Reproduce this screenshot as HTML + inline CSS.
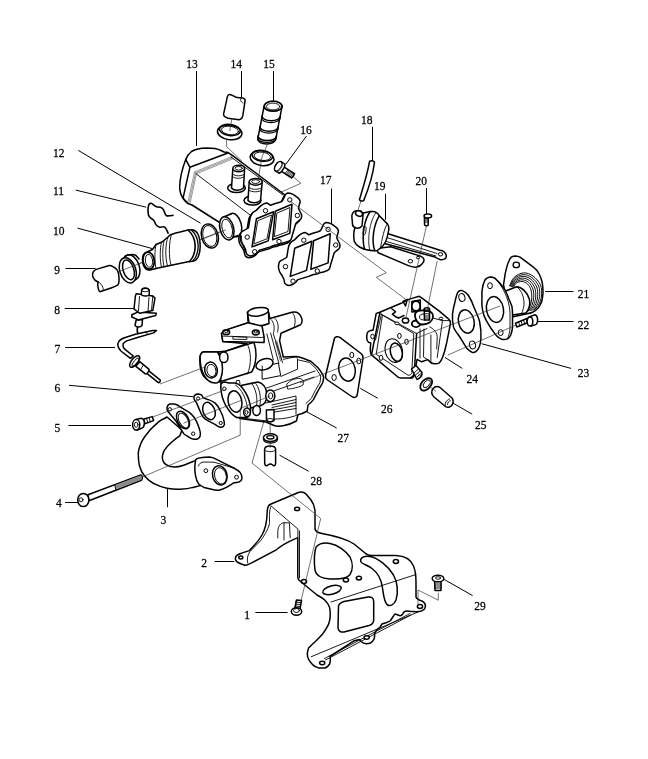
<!DOCTYPE html>
<html><head><meta charset="utf-8"><style>
html,body{margin:0;padding:0;background:#fff;}
svg{display:block;}
text{font-family:"Liberation Serif",serif;font-size:12px;fill:#000;stroke:#000;stroke-width:0.25;}
svg{will-change:transform;}
.o{fill:#fff;stroke:#000;stroke-width:1.5;stroke-linejoin:round;stroke-linecap:round;}
.n{fill:none;stroke:#000;stroke-width:1.5;stroke-linejoin:round;stroke-linecap:round;}
.i{fill:none;stroke:#000;stroke-width:0.9;stroke-linejoin:round;stroke-linecap:round;}
.t{fill:none;stroke:#333;stroke-width:0.7;}
.l{fill:none;stroke:#000;stroke-width:1;}
.h{fill:#fff;stroke:#000;stroke-width:1;}
</style></head><body>
<svg width="648" height="759" viewBox="0 0 648 759">
<g class="t">
<path d="M105,277 L232,227"/>
<path d="M293.5,177 L300.9,183.3 L278.6,193.2"/>
<path d="M226.6,138 L226.6,146.7 L241.3,160.6 L241.3,168"/>
<path d="M361,201 L357,213"/>
</g>
<g class="l">
<path d="M78.3,150.4 L200.5,223.2"/>
<path d="M75.8,190.1 L146.2,207.2"/>
<path d="M77.5,228.1 L152.3,248.6"/>
<path d="M65.4,268.5 L95.6,268.5"/>
<path d="M64.7,308.5 L133.8,308.5"/>
<path d="M65,347.5 L115,347.5"/>
<path d="M69,385.3 L193,396.7"/>
<path d="M68.4,425.5 L131,425.5"/>
<path d="M65,502.5 L78,502.5"/>
<path d="M167.5,486.5 L167.5,507.2"/>
<path d="M214.7,561.5 L234.4,561.5"/>
<path d="M255.4,612.5 L287.5,612.5"/>
<path d="M196.5,71 L196.5,146"/>
<path d="M241.5,71 L241.5,97"/>
<path d="M273.5,71 L273.5,100.6"/>
<path d="M306.5,136 L286,164"/>
<path d="M331.5,188.5 L331.5,223.7"/>
<path d="M372.5,126.7 L372.5,161.7"/>
<path d="M385.5,193.8 L385.5,219.8"/>
<path d="M426.5,188 L426.5,213.6"/>
<path d="M545,291.5 L573.5,291.5"/>
<path d="M536.4,321.5 L573.5,321.5"/>
<path d="M481.6,343.7 L571,368.4"/>
<path d="M445,357.5 L462.3,368.4"/>
<path d="M452.8,403 L472.2,414.2"/>
<path d="M360.3,388.3 L377.8,398.3"/>
<path d="M306.9,411.9 L336.7,428"/>
<path d="M279.6,455.2 L308.7,471.3"/>
<path d="M443.9,579.3 L472.6,595.6"/>
</g>
<g id="bracket">
<path class="o" d="M235.4,559.1 C235,556 238,554 242.3,552.9 L249.3,550.6 C254,546 258,542 262,535 C266,528 267,520 267.2,512 C267.3,507 268,505 271,504 L299,492.3 C302,491.5 304,492 306,494 L311,500 C314,504 315,507 315,512 L315,529 C315.5,531.5 318,532.8 322,533.5 C333,535.5 345,538 354,544 L365,553 C367,555 369,555.6 372,555.6 L396,555.6 C405,556 411,560 413.5,566 C415.5,571 416,576 416,582 L416,597 C417,599.5 420,600.5 422.6,601.3 C425.5,603 426,606 424.5,609 C422,611.5 419,612 416,611.8 L409.6,611.3 C406,610.3 404,611 403,613.5 C402,616 400,616 398,615 L395,614 C393,616 392,619 390,621 C388,622.5 385,622.8 382,624 L380,627.2 C377,629.5 375.5,631 374.5,633.5 C375,637 374,641 370.5,643 C367,644.2 363,643.5 361,641.5 L359.3,639.5 L354.3,640.7 L330,656.5 C330.5,659 330.3,662 329.6,664 C328,666.5 326,667.8 324.7,667.9 L318.5,667.9 C315.5,667 313.5,665.8 312.3,664.2 C310.5,662.5 309.3,661 308.6,659.3 C307.5,657 307.2,655 307.4,653.1 C307.6,651 308,649.5 308.6,648.1 C310.5,646 312.5,644 314.8,642 C317.5,639.5 320,637 322.2,634.6 C324.5,631.5 326.8,628 328.4,624.7 C329.6,621.5 330.2,618.8 330.2,616 C330.3,613 330.1,610 329.6,607.4 C328.5,604 326.8,602 324.7,600 C322,597.5 319,596 317,595 L300,581 C298.5,580 297.8,579 297.8,577 L297.8,538 L296.4,538.2 C290,541 283,544 276.3,549.8 L253.1,562.2 C250,564 247,565.5 244.7,565.2 L240.8,563.7 C237.5,562.5 235.6,561 235.4,559.1 Z"/>
<path class="i" d="M270.9,505.8 L297.9,529 L297.9,538"/>
<path class="i" d="M270.9,506.6 C269,510 269.5,518 269.5,523.6 C268,530 263,538 259.3,542.1 L250,551.4 C247.5,555 246.8,559 247.7,563"/>
<path class="i" d="M299.5,531 L299.5,578"/>
<path class="i" d="M277.8,538 L277.8,531.3 C278,526 281,522.8 284,522.8 L289.4,522.8 L290.2,537.5"/>
<path class="i" d="M284,522.8 L284,540"/>
<path class="n" d="M316.3,546.7 C320,543 325,542.5 330,543.5 C338,545 346,551 350,557 C353,563 353,570 350,574.5 C347,578.5 340,579.5 330,579 C322,578.5 316,576 315,570 C314,563 314,552 316.3,546.7 Z"/>
<path class="n" d="M360.7,559.6 C362,556.5 366,556 370,556.5 C378,558 388,566 393.5,575 C397.5,582 398.5,592 396,600 C394,605 390,606.5 387.5,605 C384,602 383.5,595 382.5,588 C381.5,580 378,573 372,568.5 C367,565 362,564 360.7,561.5 Z"/>
<path class="n" d="M338.5,606 C339,603.5 341,602.5 344,601.5 L368,597 C371.5,596.5 373.7,598 373.7,601.5 L373.7,620 C373.7,623 372,624.5 369,625.5 L344,632 C340.5,632.5 338,630.5 338,627.5 Z"/>
<ellipse class="n" cx="332" cy="590" rx="9.5" ry="4.2" transform="rotate(-15 332 590)"/>
<path class="i" d="M331,602 L416,574.5"/>
<path class="i" d="M311.1,656.8 L418,612"/>
<path class="i" d="M324.5,658.5 L410,613.5 M325.5,660 L411,615"/>
<g class="h" style="stroke-width:1.5">
<ellipse cx="297.1" cy="508.9" rx="2.5" ry="1.7"/>
<ellipse cx="240.8" cy="557.5" rx="2" ry="1.5"/>
<ellipse cx="304" cy="581.5" rx="2.6" ry="1.9"/>
<ellipse cx="345.9" cy="580" rx="2.6" ry="1.9"/>
<ellipse cx="358.9" cy="578.1" rx="2.6" ry="1.9"/>
<ellipse cx="395.9" cy="561.5" rx="2.6" ry="1.9"/>
<ellipse cx="420" cy="606.5" rx="2.6" ry="1.9"/>
<ellipse cx="322.2" cy="663" rx="2.6" ry="1.7"/>
<ellipse cx="366.7" cy="637.5" rx="2.6" ry="1.7"/>
</g>
</g>
<path class="t" d="M264,421 L252,463 L320.7,518.5 L301,601"/>
<g id="screw1">
<path class="o" d="M295,608 L296.5,600 L301.5,600.5 L300,609 Z"/>
<path class="i" d="M295.5,602 L300.8,602.5 M295.3,604 L300.5,604.5 M295.1,606 L300.3,606.5"/>
<ellipse class="o" cx="296.5" cy="611.5" rx="5.2" ry="3.8"/>
<ellipse class="i" cx="296.5" cy="610.5" rx="3" ry="2"/>
</g>
<g id="screw29">
<path class="o" d="M434.6,581.5 L435,590.4 L441,590.4 L441.1,581.5 Z"/>
<path class="i" d="M434.8,584 L441,584 M434.8,586 L441,586 M434.8,588 L441,588"/>
<ellipse class="o" cx="438" cy="578.5" rx="5.8" ry="3.3"/>
<ellipse class="i" cx="438" cy="578" rx="2.5" ry="1.3"/>
</g>
<g id="pipe3">
<path class="o" d="M167,417 C163,419 160,420.5 157.8,422.6 C154,426 151,428.5 148.5,431.9 C145,436 142.5,439.5 141.1,443 C139,448 138.2,451 138.3,454 C138.3,458 138.5,461.5 139.3,465.2 C140.5,470 142,473 144.8,476.3 C147.5,479.5 150.5,482 154.1,483.7 C158.5,486 162.5,487.5 167,488.3 C171.5,489.2 175.5,489.4 180,489.3 C185,489 189,488.5 193,487.4 L200.4,485.6 L198.5,459.6 C196.5,460.2 195,460.8 193,461.5 C189.5,462.8 186.5,464.3 183.7,465.2 C180.5,466.3 177.5,467 174.4,467 C171.5,467 169,466.3 167,465.2 C164.8,464 163.6,462.8 163.3,461.5 C162.4,459.5 162.2,457.5 162.4,455.9 C162.9,453.5 163.5,452 164.3,450.4 C166,447.5 168.2,445.3 170.7,443 C174,440 177,437.5 180,435.6 L181.9,430 Z"/>
<path class="o" d="M167,407.8 C167.5,405.5 168.5,404.2 169.8,404 L174.4,404 C176.5,404.4 178.5,405.5 180,406.9 L189.3,412.4 C191,413.8 192.5,415.3 193.9,417 C196,420 197.5,423 198.5,426.3 C199.5,429 200.3,431.5 200.4,433.7 C200.5,436 199.8,437.5 198.5,438.3 C197,439.3 195.5,439.5 193.9,439.3 C192,439 190.5,438.3 189.3,437.4 C187,436 185.2,435 183.7,433.7 L176,421 C173,417 170,414 168,411.5 C167.2,410.3 166.9,409 167,407.8 Z"/>
<ellipse class="n" cx="183" cy="420" rx="5.5" ry="9.5" transform="rotate(-28 183 420)"/>
<ellipse class="i" cx="183.5" cy="420.5" rx="4.3" ry="8" transform="rotate(-28 183.5 420.5)"/>
<circle class="h" cx="169.8" cy="409.3" r="1.7"/>
<circle class="h" cx="193.2" cy="433.7" r="1.7"/>
<path class="o" d="M195.7,459.6 C197,458.3 198.5,458 200.4,457.8 C203.5,457.2 206.5,456.9 209.6,456.9 C212.2,457.2 214.7,458.2 217,459.6 L224.4,463.3 L233.7,468 C236.2,469.3 238.5,470.8 240.2,472.6 C241.5,474.3 242.2,476.2 242,478.1 C241.7,479.8 240.8,481.2 239.3,481.9 C237.5,482.7 235.5,482.8 233.7,482.8 C231,484.5 228.7,486 226.3,487.4 C223.8,488.7 221.3,489.8 218.9,490.2 C216.3,490.4 213.8,490 211.5,489.3 L204,487.4 C201.8,486.4 200,485.2 198.5,483.7 C197,481.5 196.2,479 195.7,476.3 C195,473.3 194.7,470 194.8,467 C195,464.3 195.2,461.8 195.7,459.6 Z"/>
<path class="i" d="M198.5,466 C199,463.5 201,462.2 204,462 L214,462.2 L233.7,468"/>
<ellipse class="n" cx="219.8" cy="475.4" rx="7.2" ry="9.8" transform="rotate(-15 219.8 475.4)"/>
<ellipse class="i" cx="220.5" cy="475.8" rx="5.8" ry="8.3" transform="rotate(-15 220.5 475.8)"/>
<circle class="h" cx="205.9" cy="470.7" r="1.9"/>
<circle class="h" cx="236.5" cy="477.2" r="1.9"/>
</g>
<g id="gasket6">
<path class="o" d="M193.9,396.7 C194.5,394.8 196,394 197.6,393.9 C199,393.9 200.3,394.2 201.3,394.8 C202,395.5 202.6,396.5 203.1,397.6 C204.5,398.5 206,399 207.8,399.4 C210.5,400.3 213,401.5 215.2,403.1 C217.8,405.5 219.5,408.5 220.7,411.5 C222,414 223,416.5 223.5,418.9 C224,420.8 224.5,422.7 224.4,424.4 C224.2,425.7 223.2,426.8 221.7,427.2 C220.3,427.4 219,427 218,426.3 C217,425.8 216,425.2 215.2,424.4 C212.8,423.3 210.3,422.2 207.8,420.7 C206,419.6 204.3,418.4 203.1,417 C201.5,414.6 200.3,412.2 199.4,409.6 C198.5,407.4 197.6,405.2 196.7,403.1 C196,402 195.3,401.2 194.8,400.4 C194.1,399.3 193.8,398 193.9,396.7 Z"/>
<ellipse class="n" cx="209" cy="411" rx="5.8" ry="9" transform="rotate(-22 209 411)"/>
<circle class="h" cx="198.1" cy="398.5" r="1.6"/>
<circle class="h" cx="220.7" cy="423" r="1.6"/>
</g>
<g id="bolt4">
<path class="o" d="M88,494.8 L140.9,474.9 C142.5,475.5 143,478.5 141.4,480.3 L89,500.8 Z"/>
<path d="M114.8,485.2 L140.9,475.4 C142,476 142.4,478.3 141.2,479.8 L115.6,489.6 Z" fill="#8a8a8a"/>
<path class="i" d="M114.8,485 L115.8,490"/>
<ellipse class="o" cx="83.3" cy="500" rx="5.6" ry="6.6"/>
<circle class="i" cx="81" cy="499.8" r="2"/>
</g>
<g id="bolt5">
<path class="o" d="M139,420.5 L152.2,416.6 L153.6,420.6 L140,425.5 Z"/>
<path class="i" d="M144,419 L145.3,423.3 M146.5,418.2 L147.8,422.5 M149,417.4 L150.3,421.7"/>
<path class="o" d="M136,419.5 L141,418.2 C143.5,418.5 144.5,421.5 144.3,424 C144.2,426.5 143,428 141,428.5 L137,430 Z"/>
<ellipse class="o" cx="136.2" cy="424.8" rx="3.6" ry="5.2"/>
<ellipse class="i" cx="136.2" cy="424.8" rx="1.8" ry="2.6"/>
</g>
<g id="valvebody">
<!-- overall silhouette -->
<path class="o" d="M247.5,312 L268.5,312 L269.8,318.5 L292,312.3 C297,311 301,314 301.9,319 C302.3,322 301.5,324 300.6,324.7 L281,333.3 L279.6,340.7 L283.3,357 L296,356.5 C301,357 306,359.5 310.8,361.3 L317.8,367.5 C320,370 322,373 323.3,375.8 C323.8,378 323.5,380.5 322.6,382.8 L317.8,391.1 L313.6,399.4 C312,401.5 310,403.5 308,405 L307.2,411 C304,413 300.5,414.3 297.9,414.8 L296.4,421 C292,423.5 288,424.8 284,425.6 C280,426.3 276.5,426.6 273.5,425.2 L266,422 L240,418.5 L222,392 L220.8,381.5 C214,383 207,381 203.5,376 C200.5,371 199.5,363 200.1,356.6 C200.6,353.5 202,352 204,351.7 L217.3,351.9 L225.6,351.3 L246.9,343.8 L222.8,341.4 L221.5,333.3 L227.1,329.6 L248.1,322.8 Z"/>
<!-- main housing details -->
<path class="i" d="M283.3,359.3 L295.7,356.8 C297,357.2 297.5,358 297.5,359.3 L297.5,369.1 L280.9,376.5"/>
<path class="i" d="M298.3,359.9 L309.5,362.5 L316,368.5 L320.8,376 L320,382.5 L315.3,390.5 L311.3,398.5 L306,403.5"/>
<path class="i" d="M261,390 L315,371 M262,395 L314,377"/>
<path class="i" d="M287,384 C290,380 296,378 300,378.5 C303,379 304,382 303,385 C300,387 292,389 288,389 Z"/>
<path class="i" d="M266,403 L296,396 L296,414 M272,405 L296,399.5 M272,407.5 L296,402.5 M272,410 L296,405.5 M272,412.5 L296,408.5"/>
<path class="i" d="M266,418 C275,420 288,419 297.9,414.8"/>
<!-- stub on top -->
<path class="o" d="M247.5,312.5 L249.3,324.7 C255,326.5 263,326 269,323.5 L268.5,312"/>
<ellipse class="o" cx="258" cy="311.8" rx="10.5" ry="4.2" transform="rotate(-8 258 311.8)"/>
<!-- arm ring -->
<path class="i" d="M271,319.5 C274,322 275,328 273.5,333"/>
<path class="i" d="M275,318.5 C278,321 279,327 277.5,332"/>
<path class="i" d="M292,312.5 C295,315 296,320 294.5,326"/>
<!-- flange plate -->
<path class="o" d="M221.5,333.3 L227.1,329.6 L248.1,322.8 L262,326 L264.1,337 L264.1,342.6 L222.8,341.4 Z"/>
<path class="i" d="M221.8,336 L261.7,337.5 L264.1,337"/>
<path class="i" d="M233.3,336.6 L246.9,337.2 L246.9,339.5 L233.3,339.2 Z"/>
<ellipse class="o" cx="226.2" cy="332.2" rx="3.4" ry="2.4"/>
<ellipse class="i" cx="226.2" cy="331.6" rx="1.7" ry="1.1"/>
<ellipse class="o" cx="255.8" cy="332.5" rx="3.4" ry="2.4"/>
<ellipse class="i" cx="255.8" cy="331.9" rx="1.7" ry="1.1"/>
<path class="i" d="M266.9,333.9 L273.3,359.8 M270.6,333 L278.9,363.5 M273.3,333.9 L282.6,362.6"/>
<path class="i" style="stroke-width:0.6" d="M275.5,342 L280.5,361 M276.8,341 L281.6,359"/>
<path class="o" style="stroke-width:1" d="M262,367 L262.2,379.3 L280.7,375.6 L278.5,363.5 Z"/>
<ellipse class="o" cx="264.5" cy="364.3" rx="8.8" ry="5.3" transform="rotate(-18 264.5 364.3)"/>
<path class="i" d="M262.2,366 L262.4,369.5"/>
<!-- left cylinder -->
<path class="o" d="M219,352 L225.6,351.3 L254,342.4 C256.5,350 257.5,362 251.7,372 L220.8,381.5 Z"/>
<path class="i" d="M247,343.6 C251,350 252,364 247.5,374"/>
<path class="o" d="M200.1,356.6 C200.6,353.5 202,352 204,351.7 L217.3,351.9 C220,356 222.5,362 222.5,368.5 C222.5,376 220,381.5 217.3,382.7 C213,383.5 208,382 204.2,375.6 C201.5,371 200,363 200.1,356.6 Z"/>
<ellipse class="n" cx="211" cy="370" rx="6.3" ry="8" transform="rotate(-12 211 370)"/>
<ellipse class="i" cx="211.5" cy="370.5" rx="4.5" ry="6.2" transform="rotate(-12 211.5 370.5)"/>
<ellipse class="o" cx="223.8" cy="357.2" rx="4.2" ry="5.3"/>
<!-- valve seat cylinder -->
<path class="o" d="M241,385.5 L258.2,381.9 C263,383 266.5,388 267,395 C267,400 264.5,404.5 260,406 L248,408.5 Z"/>
<path class="i" d="M255,382.5 C259,387 261.5,396 260,405.5 M251.5,383.3 C255.5,388 258,397 256.5,406.5"/>
<!-- lower-left flange ring -->
<path class="o" d="M221,384 C222,382.5 223.2,381.9 224.7,381.9 L229,383 L235,383 C237.5,383.5 239.3,384.6 240.9,386.2 C243,388.5 244.8,391 246.3,393.8 C247.8,396.5 248.9,399.4 249.6,402.4 C250.2,404.5 250.6,406.7 250.6,408.9 C250.6,411.3 250.3,413.5 249.6,415.4 C248.8,416.6 247.6,417.3 246.3,417.5 L236.6,417.5 C234.5,416.3 232.7,414.9 231.2,413.2 C229.2,410.8 227.4,408.3 225.8,405.6 C224.5,403.2 223.4,400.6 222.6,398 C221.9,395.5 221.3,393 221,390.5 C220.8,388.3 220.8,386 221,384 Z"/>
<path class="i" d="M235.5,385.1 C240,388 244,394 246.3,402.4 C247.2,405.5 247.6,408.5 247.4,411.5"/>
<ellipse class="n" cx="235" cy="401.5" rx="6.8" ry="10.8" transform="rotate(-12 235 401.5)"/>
<circle class="h" cx="224.3" cy="388.8" r="1.7"/>
<path class="i" d="M236,383 L236.5,380.5 L239.5,380.5 L240,384"/>
<!-- bosses -->
<ellipse class="o" cx="270.3" cy="395.8" rx="4.6" ry="5.9"/>
<ellipse class="i" cx="270.6" cy="395.8" rx="2.2" ry="3"/>
<ellipse class="o" cx="256.6" cy="410.5" rx="3.8" ry="4.9"/>
<ellipse class="o" cx="247" cy="412.3" rx="3.3" ry="4.3"/>
<ellipse class="i" cx="246.5" cy="412.3" rx="1.5" ry="2"/>
<path class="i" d="M236.6,417.5 L265.8,420.8"/>
<path class="o" d="M266.3,410 L266.6,420.5 C268.5,422.5 272,422.5 274,420.5 L274,409.5 Z"/>
<ellipse class="i" cx="270.2" cy="420" rx="3.5" ry="1.5"/>
</g>
<g id="gasket26">
<path class="o" d="M334.4,338.5 C335.3,336.5 337.5,336.2 339.5,337.2 L361,353.5 C362.8,355 363.3,356.5 363,358.5 L357.3,394.5 C356.8,397 355,398 352.5,397 L327.5,380 C325.8,378.8 325.3,377 325.6,375.5 Z"/>
<ellipse class="n" cx="347" cy="369.6" rx="8.2" ry="11.7" transform="rotate(-12 347 369.6)"/>
<ellipse class="h" cx="351.8" cy="355" rx="2" ry="2.7"/>
<ellipse class="h" cx="358.8" cy="361" rx="2" ry="2.9"/>
<ellipse class="h" cx="334.1" cy="377.5" rx="2.2" ry="3"/>
</g>
<g id="block24">
<path class="o" d="M367,334 C367.5,331.5 369.3,330.5 373.1,330.1 L376.2,313.4 L379.8,312.2 L401.1,303.3 L409.4,299.1 L411.9,298.4 L419.3,296.3 L422.4,298.4 L430.9,304.8 L439.3,311.1 L446.7,317.4 C448.5,318.8 449.5,320 449.9,320.6 C450.4,321.8 450.5,322.8 450.4,323.8 L448.8,332.2 L446.7,342.7 L444.6,351.2 L442.5,357.5 C441.5,360 440.5,361.8 439.3,362.8 C438,363.6 436.5,363.9 435.1,363.8 C433.5,363.7 432,363.3 430.9,362.8 L427.7,359.6 L421.7,361.8 L417.1,359.4 L414.2,373.8 C413.5,376 412,377.5 410,378 L401.1,378 C399.5,377.8 398.5,377.4 397.6,376.8 L371.5,354.9 C370.5,353.5 370.2,351 370.3,348 L370.8,343 C369,342.8 367.8,342 367.2,340.5 C366.6,338.5 366.5,336 367,334 Z"/>
<path class="n" d="M416.6,333.5 L414.2,375 C413.8,377 412.5,378 410.5,378 M379.8,312.8 L371.5,354.9"/>
<path class="i" d="M380.5,313.8 L416.6,333.5"/>
<path class="i" d="M382.8,315.3 L413.8,333.6 L411.8,372.5 C411.5,374.5 410,375.5 408,375.2 L376.5,354.5 Z"/>
<path class="i" d="M416.6,333.5 L419.5,332 L427,328.5"/>
<ellipse class="i" style="stroke-width:1.1" cx="393.8" cy="350.6" rx="8.6" ry="12" transform="rotate(-15 393.8 350.6)"/>
<ellipse class="n" cx="396.3" cy="352.2" rx="5.8" ry="9.3" transform="rotate(-15 396.3 352.2)"/>
<ellipse class="h" cx="399.4" cy="335.9" rx="1.8" ry="2.6"/>
<ellipse class="h" cx="406.5" cy="341.8" rx="1.8" ry="2.6"/>
<ellipse class="h" cx="381" cy="357.8" rx="1.8" ry="2.6"/>
<ellipse class="h" cx="397" cy="323.4" rx="2" ry="1.4"/>
<ellipse class="h" cx="372.5" cy="336.5" rx="1.8" ry="2.3"/>
<path class="i" d="M442.5,320.6 L437.2,357.5 M426.6,316.4 L442.5,320.6 L449.9,320.6"/>
<path class="i" d="M429.8,326.9 C434,329 437.5,333 437.2,337.5 L436.7,349"/>
<path class="i" d="M420,329 L420,358 M424,329 L423.5,357 L428,360 M430.9,335 L430.9,362.8"/>
<path class="i" d="M381.5,314 L375.5,340"/>
<path class="n" d="M391.8,308.7 L395.5,311.8 L392.4,314.2 L395.5,316.7 L398.5,318 L401.6,316.7 L404,315.5"/>
<path class="n" d="M403,301.5 L407.2,299.4 L405.5,306 Z"/>
<ellipse class="o" cx="405.5" cy="320.5" rx="3.2" ry="2.6"/>
<path class="o" d="M411.9,301.6 L420.3,300 L420.3,311.1 L411.9,312 Z"/>
<ellipse class="o" cx="416" cy="306" rx="4.2" ry="5" style="stroke-width:1.8"/>
<ellipse class="o" cx="416" cy="323.8" rx="4.2" ry="3.3" style="stroke-width:1.8"/>
<path class="o" d="M415,314 C416,310.5 421,310 426,310.5 C431,311 433.5,313.5 433,317 C432.5,321.5 428,324.8 422,324.5 C417.5,324.3 414.3,318 415,314 Z" style="stroke-width:1.8"/>
<ellipse class="i" cx="424" cy="317" rx="4.5" ry="3"/>
<path class="o" d="M424.2,309 L424.5,320 L429.5,320 L429.5,309 Z"/>
<path class="i" d="M424.3,311.5 L429.5,311.5 M424.3,313.8 L429.5,313.8 M424.3,316 L429.5,316 M424.3,318 L429.5,318"/>
<ellipse class="o" cx="426.9" cy="309" rx="2.6" ry="1.3"/>
<ellipse class="h" cx="441" cy="318.5" rx="1.8" ry="1.3"/>
<path class="o" d="M411.5,369 L416,365.5 L422,372.5 C422.5,375.5 420,378.5 417,379.5 Z"/>
<path class="i" d="M414,373 L418.5,369 M415.5,375 L420,371 M417,377 L421,373.5"/>
</g>
<g id="nut25">
<ellipse class="o" cx="426.2" cy="384.3" rx="4.6" ry="7.3" transform="rotate(42 426.2 384.3)" style="stroke-width:1.8"/>
<ellipse class="i" cx="426.8" cy="383.8" rx="2.6" ry="4.6" transform="rotate(42 426.8 383.8)"/>
</g>
<g id="cap25">
<path class="o" d="M433,388.5 C435,386.5 438,386.3 440,387.5 L451.5,397.5 C453.5,399.5 453.5,402.5 452,405 C450.5,407.3 447.5,408 445.5,406.5 L434,397 C431.5,394.5 431.3,391 433,388.5 Z"/>
<path class="i" d="M445.5,406.5 C444.5,403.5 446,400 449.5,399 M447.5,404.5 C447.5,402.5 448.8,401 450.5,400.7"/>
</g>
<g id="plug28">
<path class="o" d="M263.5,437.8 L263.6,439.5 C264,442 267,443 270.4,443 C274,443 277,442 277.4,439.5 L277.4,437.8 Z"/>
<ellipse class="o" cx="270.4" cy="437.6" rx="7" ry="3.8"/>
<ellipse class="i" cx="270.4" cy="437.3" rx="3.6" ry="1.7" style="stroke-width:1.3"/>
<path class="o" d="M264.6,449.5 L264.7,463.5 C264.8,465.5 266.5,466.3 268,465 C269.5,463.8 271.3,463.8 272.6,465 C274,466.3 275.6,465.5 275.6,463.5 L275.6,449.5 C275.6,447 273,446 270.1,446 C267.3,446 264.6,447 264.6,449.5 Z"/>
<path class="i" d="M264.7,450 C266,452.3 274.2,452.3 275.5,450"/>
</g>
<g id="gasket23">
<path class="o" d="M457.4,293 C458.5,290.5 460.5,290.2 462.3,290.6 C465,291.5 467,293.3 468.5,295.5 C471,299.5 473,304 474.7,309 C476.5,313 478.5,317.5 479.6,321.5 C480.7,327 481.3,333 480.9,338.8 C480.5,344 479,348.5 477,350.5 C475.5,352.3 473.5,352.8 472,352.3 C470,351.5 468.5,350.3 467,348.6 C465,345.5 463,342 461,338.8 C458.5,335 455.5,331.5 453.7,327.7 C452.5,323 452.2,318.5 452.5,314 C453,309.5 454,305.5 455,301.7 C455.7,298.5 456.5,295.5 457.4,293 Z"/>
<ellipse class="n" cx="466.3" cy="321.5" rx="7.8" ry="11.8" transform="rotate(-12 466.3 321.5)"/>
<ellipse class="h" cx="461.9" cy="297.5" rx="3" ry="4" transform="rotate(-15 461.9 297.5)"/>
<ellipse class="h" cx="472.5" cy="345" rx="3" ry="4" transform="rotate(-15 472.5 345)"/>
</g>
<g id="elbow21">
<path class="o" d="M503.5,285 L505.2,273.7 C506.5,268 507.5,263.5 508.7,261.6 C509.5,259.5 510.3,258 511.3,257.2 C512.8,256.2 514.2,255.9 515.7,255.9 C517.3,256 518.7,256.5 520,257.2 L526.1,261.6 L533,266.8 C535,268.5 536.3,269.8 537.4,271.1 C539,273.3 540.1,275.7 540.9,278.1 C541.8,280.4 542.3,282.7 542.6,285 C542.9,287.6 543,290.3 543,292.9 C542.8,295.8 542.4,298.7 541.7,301.6 C540.8,303.8 539.7,305.9 538.3,307.7 C536.8,309.5 535,310.9 533,312 C531,313 529,313.5 527,313.7 L512,317 L505,292 Z"/>
<ellipse class="h" cx="516.3" cy="264.9" rx="3.2" ry="2.7" style="stroke-width:1.3"/>
<g class="i" style="stroke-width:0.95">
<path d="M509.6,285.9 C510.3,284.5 511.7,279.7 514.0,277.5 C516.3,275.3 520.3,273.1 523.5,272.9 C526.7,272.6 530.2,274.0 533.0,276.0 C535.8,278.0 539.1,281.7 540.5,285.0 C541.9,288.3 541.8,292.7 541.5,296.0 C541.2,299.3 539.8,302.7 538.5,305.0 C537.2,307.3 534.7,309.2 533.9,310.0"/>
<path d="M510.4,286.2 C511.1,284.9 512.4,280.5 514.5,278.6 C516.6,276.7 520.3,274.8 523.2,274.6 C526.1,274.5 529.3,275.7 531.9,277.6 C534.5,279.5 537.3,282.9 538.6,286.0 C539.9,289.1 539.9,293.2 539.6,296.4 C539.3,299.6 538.0,302.8 536.9,305.1 C535.7,307.4 533.3,309.4 532.6,310.2"/>
<path d="M511.2,286.4 C511.8,285.3 513.0,281.4 515.0,279.7 C517.0,278.0 520.3,276.4 522.9,276.3 C525.5,276.3 528.5,277.4 530.8,279.2 C533.1,281.0 535.6,284.1 536.7,287.0 C537.8,289.9 537.9,293.8 537.6,296.8 C537.4,299.8 536.3,302.9 535.2,305.2 C534.2,307.5 532.0,309.5 531.3,310.4"/>
<path d="M511.9,286.7 C512.5,285.7 513.7,282.2 515.5,280.8 C517.3,279.4 520.2,278.1 522.6,278.1 C525.0,278.1 527.7,279.1 529.7,280.8 C531.7,282.5 533.8,285.3 534.8,288.0 C535.8,290.7 535.9,294.3 535.7,297.2 C535.5,300.1 534.5,303.1 533.6,305.3 C532.6,307.5 530.6,309.7 530.1,310.6"/>
<path d="M512.7,286.9 C513.3,286.1 514.4,283.1 516.0,281.9 C517.6,280.7 520.2,279.7 522.3,279.8 C524.4,279.9 526.8,280.9 528.6,282.4 C530.4,283.9 532.0,286.5 532.9,289.0 C533.8,291.5 533.9,294.9 533.7,297.6 C533.6,300.3 532.8,303.2 531.9,305.4 C531.1,307.6 529.3,309.9 528.8,310.8"/>
<path d="M513.5,287.2 C514.0,286.5 515.1,283.9 516.5,283.0 C517.9,282.1 520.2,281.3 522.0,281.5 C523.8,281.7 526.0,282.6 527.5,284.0 C529.0,285.4 530.3,287.7 531.0,290.0 C531.7,292.3 531.9,295.4 531.8,298.0 C531.7,300.6 531.0,303.3 530.3,305.5 C529.6,307.7 528.0,310.1 527.5,311.0"/>
</g>
<path class="o" d="M505,291.3 L516.5,286.8 C522,287 527,292 529.3,299 C530.5,304 529,310 526,312.9 L512.5,315.1 Z"/>
<path class="i" d="M516.5,286.8 C520.5,289 523.5,295 524,302 C524.3,306.5 523,310.5 521.5,313.5"/>
<path class="o" d="M484.4,281.3 C485,279.5 485.8,278.6 486.9,278.2 C488.2,277.4 489.7,276.9 491.3,276.9 C492.6,277.1 493.8,277.5 495,278.2 L500,283.2 C502,286 503.6,288 505,290 C506.5,293 507.8,295.8 508.8,298.8 L511.9,306.3 C512.4,309.2 512.6,312.1 512.5,315.1 L512.5,327.6 C512.2,330.2 511.6,332.7 510.7,335.1 C509.8,336.7 508.8,338.2 507.5,338.9 C505.9,339.5 504.2,339.7 502.5,339.5 C501.1,339 499.9,338.4 498.8,337.6 C497.4,336.5 496.1,335.2 495,333.9 L491.3,328.8 L487.5,322.6 C486.1,320.2 484.9,317.7 483.8,315.1 C482.8,311.8 482.2,308.4 481.9,305 L481.9,292.6 C482.1,290 482.5,287.5 483.1,285 C483.4,283.7 483.8,282.4 484.4,281.3 Z"/>
<path class="i" d="M495,278.2 C498,281 502,287 504.5,292 C507.5,298 509.5,305 510,312 L510,328 C509.8,332 509,335 507.5,338.9"/>
<ellipse class="n" cx="495" cy="309.5" rx="8.5" ry="13" transform="rotate(-10 495 309.5)"/>
<ellipse class="h" cx="490" cy="285.7" rx="2.4" ry="3"/>
<ellipse class="h" cx="500.7" cy="332.6" rx="2.4" ry="3"/>
</g>
<g id="bolt22">
<path class="o" d="M515.5,323.2 L530,317.3 L531.2,321.2 L516.8,327 Z"/>
<path class="i" d="M518.5,322 L519.8,325.8 M521,321 L522.3,324.8 M523.5,320 L524.8,323.8 M526,319 L527.3,322.8 M528.5,318 L529.8,321.8"/>
<path class="o" d="M529,317 L535,314.8 C537,315.5 537.8,318.5 537.5,321.5 C537.2,323.5 536,324.8 534.5,325 L531,326 Z"/>
<ellipse class="o" cx="530" cy="321.5" rx="2.8" ry="4.6"/>
</g>
<g id="hose18">
<path class="o" d="M369.6,161.2 C371,160.6 373,160.8 374.5,162 C373,175 368,190 363.7,200.6 C362.3,201.3 360.5,201.1 359.4,199.8 C363,188 367.5,174 369.6,161.2 Z"/>
</g>
<g id="act19">
<path class="o" d="M376.4,248.5 L378.1,252.7 L407.8,265.4 C411,266.8 413.5,267.3 416.3,267.1 C419,266.8 421,265.5 422.2,263.8 C423.5,262.5 424.2,261 424,259.5 C423.5,258 422.2,256.8 420.5,256.1 L390.8,246.8 Z"/>
<ellipse class="h" cx="410.4" cy="261.2" rx="2.3" ry="1.7"/>
<ellipse class="h" cx="418" cy="257.6" rx="1.6" ry="1.2"/>
<path class="o" d="M386.6,233.2 L440,250.2 C442,250.3 444.5,251.5 446,254.4 C446.5,256.5 446,258 445.2,258.7 C443.5,259.8 441.5,259.8 440,259.5 C438,259 436.5,258 435,257 L380.7,242.5 Z"/>
<path class="i" d="M384,236.6 L437,253.5 M383,240.5 L436,256"/>
<ellipse class="h" cx="440.5" cy="254.3" rx="2.2" ry="1.7"/>
<path class="o" d="M363.4,213.1 L370.4,211.6 C374,211 377.5,212 379.3,215.8 L387.4,223.9 C389,226 389,230 388.1,233 C387,240 384,245.5 380.4,248.2 L377.3,250.5 C372,251 365,250 359.6,247 C356.5,245 354.8,243 354.2,241.3 C353.5,236 353.6,233 354.2,230.5 C356,223 359.5,216.5 363.4,213.1 Z"/>
<path class="n" d="M370.4,211.6 C365,218 361,235 364.5,249.3"/>
<path class="n" d="M379.3,215.8 C374,224 371,240 374.8,250.8"/>
<path class="i" d="M375.5,213.3 C370,221.5 367,238 369.8,250.3" style="stroke-dasharray:1.2 0.8"/>
<path class="i" d="M387.4,223.9 C384,228 382,240 380.4,248.2"/>
<path class="i" d="M364.2,226.5 C365.5,226 366.5,227 366.2,229 L365.5,233.5 C365,235 363.5,235.3 363,234 L363.3,228.5 C363.4,227.5 363.7,226.8 364.2,226.5 Z"/>
<path class="o" d="M351.9,217.3 C351.5,214 353.5,211 356,210.8 L361,211 C362.5,212 363.2,213.5 363,215 L362,226 C360,228 357.5,228.5 356.5,228.1 C354,227.5 352.8,226 352.6,225 Z"/>
<ellipse class="o" cx="359" cy="213.6" rx="3.6" ry="2.6" transform="rotate(20 359 213.6)"/>
</g>
<g id="screw20">
<path class="o" d="M424.4,218 L424.6,225 C425.5,226 427.5,226 428.2,225 L428.2,218 Z"/>
<path class="i" d="M424.5,220 L428.2,220 M424.5,222 L428.2,222"/>
<ellipse class="o" cx="427.8" cy="216" rx="3.8" ry="2"/>
</g>
<g id="cooler13">
<path class="o" d="M188,203.5 C184,200.5 181,196 180,191 L179.7,188.1 C179.5,180 182.5,168 185.7,159.4 C187,156 189,153.5 191.5,151.5 C195,149.5 200,148.3 206.6,148.1 C212,148.1 217,148.6 221,150.5 L224.1,152 L227.9,152.5 L231.6,154.8 L285,195 L258,250 L222,224 L192,205 Z"/>
<path class="n" d="M185.7,159.4 L189.9,167.3 L227.9,153 M189.9,167.3 L183,198.3 L188,203.5"/>
<path class="i" style="stroke:#555;stroke-width:0.6" d="M194.5,172 L231.6,156.7 M195.2,173 L232.2,157.8 M195.9,174 L232.8,158.9 M194.5,172 L188,201.5 M195.5,173 L189.2,202 M196.4,174 L190.3,202.5"/>
<path class="i" d="M196.4,174 L249.7,214.7"/>
<path class="i" d="M231,157 L283,195"/>
</g>
<g id="stubs">
<ellipse class="o" cx="236.5" cy="188" rx="8.8" ry="4.6"/>
<path class="o" d="M232.8,169 L231.5,188 C234,191 240.5,191 243.5,188 L244.6,169 Z"/>
<ellipse class="o" cx="238.7" cy="168.5" rx="5.9" ry="3.2"/>
<ellipse class="i" cx="238.7" cy="168.3" rx="3.6" ry="1.8"/>
<path class="i" d="M232.6,174 C235,176.5 242,176.5 244.4,174 M232.4,176.5 C235,179 242,179 244.2,176.5"/>
<ellipse class="o" cx="252.5" cy="200.5" rx="8.5" ry="4.6"/>
<path class="o" d="M249.2,182 L248,200.5 C250.5,203.5 257.5,203.5 260.5,200.5 L262.2,182 Z"/>
<ellipse class="o" cx="255.7" cy="181.8" rx="6.5" ry="3.4"/>
<ellipse class="i" cx="255.7" cy="181.6" rx="4" ry="1.9"/>
<path class="i" d="M249,187.5 C251.5,190 259,190 262,187.5 M248.8,190 C251.5,192.5 259,192.5 261.8,190"/>
</g>
<g id="inlet">
<ellipse class="o" cx="234.5" cy="225" rx="6.8" ry="11.9" transform="rotate(-15 234.5 225)"/>
<path class="o" d="M222,219 L230,214 L241,232 L231,238 Z" style="stroke:none"/>
<path class="n" d="M223.5,217 L231.5,213.8 M229.8,238.9 L238,235.5"/>
<ellipse class="o" cx="226.8" cy="228.3" rx="6.8" ry="11.9" transform="rotate(-15 226.8 228.3)"/>
<ellipse class="i" cx="227.2" cy="228.5" rx="5" ry="9.6" transform="rotate(-15 227.2 228.5)"/>
</g>
<g id="flange13">
<use href="#flg" transform="translate(-1.4 1.8)"/>
<path id="flg" class="o" d="M287.7,192.9 C289.5,192.9 290.8,193.3 292,193.9 C293.5,194.6 295,195.5 296.3,196.6 C297.7,197.6 299,198.7 299.6,199.9 C300.3,201.2 300.2,202.5 299.6,203.7 C299,205.5 298.5,207 298.5,208.5 C299,209.7 299.6,210.7 300.1,211.8 C300.9,213 301.5,214.2 301.7,215.5 C301.8,216.9 301.4,218.2 300.6,219.3 C299.8,220.2 298.9,220.9 297.9,221.5 C297,222.2 296.3,222.9 295.8,223.6 C295.2,225.4 294.7,227.2 294.2,229 L292.5,234.4 C292.2,236.2 291.7,238 290.9,239.8 C289.6,240.9 288.1,241.6 286.6,242 C285.2,242.4 283.7,242.8 282.3,243.1 C281.2,243.4 280.1,243.8 279,244.2 C277.6,244.6 276.1,244.9 274.7,245.2 C273.3,245.8 271.8,246.3 270.4,246.9 L259.6,250.1 C258.8,251 258.2,252 257.4,252.8 C256.4,253.8 255.3,254.5 254.2,255 C252.8,255.6 251.4,256 249.9,256 C248.6,255.6 247.4,254.9 246.6,253.9 C246,252.5 245.8,251 245.6,249.6 C245.1,248.5 244.5,247.4 243.9,246.3 C242.9,244.9 241.9,243.5 241.2,242 C240.5,240.3 240.1,238.5 240.2,236.6 C240.3,235.1 240.6,233.6 241.2,232.3 C242.2,231.3 243.3,230.6 244.5,230.1 C245.8,229.5 247.1,228.8 248.3,228 C248.8,226.2 249.1,224.4 249.3,222.6 C249.6,220.6 250,218.6 250.4,216.6 C251,215.3 251.7,214 252.6,212.8 C253.5,211.9 254.6,211.2 255.8,210.7 C257.2,209.5 258.4,208.1 259.6,206.9 C260.8,205.8 262.1,204.9 263.4,204.2 C264.7,203.5 265.9,203.1 267.2,203.1 C268.3,203.6 269.4,204.6 270.4,205.3 C271.8,204.8 273.3,204.2 274.7,203.7 C276.1,203.3 277.6,202.9 279,202.6 C280.1,202.1 281.2,201.6 282.3,201 C283.1,199.6 283.8,198.1 284.4,196.6 C284.8,195.9 285.1,195.2 285.5,194.5 C286.2,193.6 286.9,193.1 287.7,192.9 Z"/>
<path class="i" d="M243,246 L245.5,252 M241.5,236 C241,240 242,243.5 244,246"/>
<path class="n" d="M256.4,218.8 L273.6,211.8 L268.2,240.9 L252,246.9 Z"/>
<path class="i" d="M258.2,220.5 L271.5,215 L267,238.8 L254.2,243.8 Z"/>
<path class="n" d="M275.3,211.2 L292,204.2 L289.8,233.4 L272.6,239.8 Z"/>
<path class="i" d="M277.2,213 L290,207.5 L288,231.5 L274.7,236.5 Z"/>
<g class="h">
<circle cx="289.8" cy="199.9" r="2.2"/><circle cx="297.4" cy="215.5" r="2.2"/><circle cx="279" cy="241.5" r="2.2"/>
<circle cx="254.7" cy="251.7" r="2.2"/><circle cx="247.2" cy="237.1" r="2.2"/><circle cx="265.5" cy="210.7" r="2.2"/>
</g>
</g>
<g id="gasket17" transform="translate(38.3 29.5)">
<use href="#flg"/>
<path class="n" d="M256.4,218.8 L273.6,211.8 L268.2,240.9 L252,246.9 Z"/>
<path class="n" d="M275.3,211.2 L292,204.2 L289.8,233.4 L272.6,239.8 Z"/>
<g class="h">
<circle cx="289.8" cy="199.9" r="2.2"/><circle cx="297.4" cy="215.5" r="2.2"/><circle cx="279" cy="241.5" r="2.2"/>
<circle cx="254.7" cy="251.7" r="2.2"/><circle cx="247.2" cy="237.1" r="2.2"/><circle cx="265.5" cy="210.7" r="2.2"/>
</g>
</g>
<g id="oring12">
<ellipse class="n" cx="209.8" cy="236" rx="8.3" ry="12.3" transform="rotate(-15 209.8 236)"/>
<ellipse class="i" cx="209.8" cy="236" rx="6.8" ry="10.7" transform="rotate(-15 209.8 236)"/>
</g>
<g id="cap14">
<path class="o" d="M228.9,94.6 C231,94 233.5,96 235.9,97.3 C238,98 240,97.5 241.3,97.7 C243.5,98 245.3,98.8 245.1,100.5 L242.8,115.9 C242,118.5 240.5,119.8 239,119.7 L228.1,118.2 C225.5,117.5 223.5,116 223.5,114.3 L226.6,100.4 C227,97.5 227.5,95.3 228.9,94.6 Z"/>
<path class="i" d="M241.3,97.7 C240,99.5 240.5,102 243,103"/>
</g>
<g id="ring14">
<ellipse class="o" cx="229.7" cy="132.5" rx="12.3" ry="7.2" transform="rotate(8 229.7 132.5)"/>
<ellipse class="n" cx="229.9" cy="130" rx="10.5" ry="5.5" transform="rotate(8 229.9 130)"/>
<ellipse class="i" cx="230" cy="130.5" rx="8.5" ry="4.2" transform="rotate(8 230 130.5)"/>
</g>
<g id="hose15">
<path class="o" d="M264.1,106.2 L257.7,139.3 A9.0 4.6 0 0 0 275.7,139.3 L282.1,106.2 Z"/>
<path class="n" style="stroke-width:1.5" d="M261.9,116.1 A9.3 4.6 0 0 0 280.5,116.1"/>
<path class="n" style="stroke-width:1.3" d="M261.5,118.0 A9.3 4.6 0 0 0 280.1,118.0"/>
<path class="n" style="stroke-width:1.5" d="M259.8,126.7 A9.3 4.6 0 0 0 278.4,126.7"/>
<path class="n" style="stroke-width:1.3" d="M259.5,128.5 A9.3 4.6 0 0 0 278.1,128.5"/>
<path class="n" style="stroke-width:1.5" d="M258.0,136.0 A9.3 4.6 0 0 0 276.6,136.0"/>
<path class="n" style="stroke-width:1.3" d="M257.7,137.8 A9.3 4.6 0 0 0 276.3,137.8"/>
<ellipse class="o" cx="273.1" cy="106.2" rx="9.0" ry="5.0" style="stroke-width:1.8"/>
<ellipse class="i" cx="273.1" cy="106.5" rx="6.7" ry="3.3999999999999995"/>
</g>
<g id="ring15">
<ellipse class="o" cx="262.1" cy="158.2" rx="12" ry="7.3" transform="rotate(8 262.1 158.2)"/>
<ellipse class="n" cx="262.3" cy="155.8" rx="10.3" ry="5.4" transform="rotate(8 262.3 155.8)"/>
<ellipse class="i" cx="262.4" cy="156.3" rx="8.3" ry="4.1" transform="rotate(8 262.4 156.3)"/>
</g>
<g id="bolt16">
<path class="o" d="M280.7,170.8 L291.6,177.9 L293.4,176.0 L294.4,173.7 L283.4,166.6 Z"/>
<path class="i" d="M284.9,173.5 L288.3,169.8 M286.2,174.3 L289.6,170.6 M287.4,175.2 L290.8,171.4 M288.7,176.0 L292.1,172.2 M290.0,176.8 L293.3,173.0 M291.2,177.6 L294.6,173.8"/>
<path class="o" d="M281.2,161.8 L285.0,164.2 L284.5,167.1 L281.5,171.6 L279.2,173.3 L275.4,170.8 Z"/>
<ellipse class="o" cx="278.3" cy="166.3" rx="2.9" ry="5.4" transform="rotate(32.7 278.3 166.3)"/>
<path class="i" d="M283.5,163.7 L278.1,172.1" style="stroke:#888"/>
</g>
<g id="clip11">
<path class="n" style="stroke-width:1.6" d="M173,215.4 C170,215.8 167.5,216.2 166.5,215.7 C165.5,215 165.3,214.1 165.3,214.1 C164.5,212 164,210.8 163.5,209.8 C162.5,208.3 161.5,207.6 160.4,207.3 C159,206.9 157.8,207 156.7,206.7 C155.7,206.3 154.9,205.8 154.2,205.5 C153,204.5 152,203.3 151.1,203.3 C150.2,203.3 149.6,203.5 149.3,204 C148.7,204.8 148.4,205.7 148.3,206.7 C148.1,208 148,209.5 148,211 C148.1,212.5 148.2,214 148.6,215.4 C149.1,216.4 149.7,217.2 150.5,217.8 C151.6,218.6 152.7,219.3 153.6,220.3 C154.5,221.5 155.2,223.2 156,224.6 C156.8,225.8 157.9,226.7 159.1,227.1 C160.3,227.4 161.6,226.9 162.8,226.8 C163.6,226.7 164.2,226.8 164.7,227.1 C165.5,227.8 166,228.6 166.5,229.6 C167.2,230.8 167.7,232 168.1,233.3"/>
</g>
<g id="conn10">
<path class="o" d="M147,252 L152.5,249.5 L156,244.5 L162,242 L168,237 L170,235 C174,233.5 177,232.5 180,232 L188,230 C190,229.6 191.5,229.6 192.5,229.8 C195,230.5 197,232 198.3,235 C199.6,238 200.2,242 200.2,247 C200.1,251 199.3,254.5 197.8,257.5 C196.5,259.8 195,261 193,261.3 L188,261.8 L170,265.5 L156,268.5 L151,269.8 C149.5,270.2 148,270 147,269.5 C145,268.6 143.5,266 142.8,263 C142.3,260 142.5,257 143.3,255 C144.2,253.5 145.5,252.5 147,252 Z"/>
<path class="n" d="M188,230 C192.5,234 195.2,240 195.2,246 C195.2,252 193,258 189.5,261.5" style="stroke-width:1.6"/>
<path class="n" d="M191.2,229.8 C195.7,234 198.2,240 198.2,246 C198.2,252 196,258 192.5,261.3" style="stroke-width:1.3"/>
<path class="i" d="M168,237.2 C165.2,243 165,258 167.5,265.8"/>
<path class="i" d="M171.5,234.5 C169,241 168.5,257 171,265"/>
<path class="i" d="M161.5,242.3 C159.8,248 159.8,261 161.5,267.3 M164,241 C162.3,247 162.3,260 164,266.8"/>
<path class="i" d="M156,244.8 C154.5,250 154.5,262 156,268.3"/>
<ellipse class="n" cx="148.6" cy="260.6" rx="5.6" ry="8.6" transform="rotate(-8 148.6 260.6)" style="stroke-width:1.8"/>
<ellipse class="i" cx="149" cy="260.8" rx="3.6" ry="6.4" transform="rotate(-8 149 260.8)"/>
</g>
<g id="ring910">
<ellipse class="o" cx="131.3" cy="267.3" rx="8" ry="13" transform="rotate(-18 131.3 267.3)"/>
<path class="n" d="M125.5,256 C129,254.5 133.5,254 136,255.5 L139,259"/>
<ellipse class="o" cx="127.8" cy="270.3" rx="8" ry="13" transform="rotate(-18 127.8 270.3)"/>
<ellipse class="n" cx="128.5" cy="269.8" rx="5.3" ry="10.2" transform="rotate(-18 128.5 269.8)"/>
</g>
<g id="cap9">
<path class="o" d="M93.1,272.2 C94,270.5 95,269.8 96.3,269.4 L108.4,265.7 C110,265.3 111.5,265.8 113,266.7 C114.5,267.3 115.7,268.2 116.7,269.4 C117.8,270.8 118.4,272.4 118.6,274.1 C119,276.6 119.1,279 119,281.5 C118.9,283 118.4,284.3 117.6,285.2 C115.5,286.4 113.3,287.3 111.1,288 L102.8,290.7 C101.8,291.1 100.9,291.6 100,291.7 C99.3,291.3 98.9,290.6 98.6,289.8 C98.1,288 97.8,286.1 97.7,284.3 C97.8,283.5 98,282.7 98.2,282 C96.8,281.4 95.5,280.6 94.5,279.6 C93.5,278.5 92.9,277.2 92.6,275.9 C92.5,274.6 92.7,273.3 93.1,272.2 Z"/>
<path class="i" d="M98.2,282 C100.5,283 102,285 102.9,287.5 C103.4,289 103.4,290 102.8,290.7"/>
</g>
<g id="sensor8">
<path class="o" d="M136.2,320 L135,325.5 C136.5,327.5 140.5,327.5 142,325.5 L142.5,319.5 Z"/>
<path class="n" d="M137.5,327 C137,330 137.2,333 138.5,335"/>
<path class="o" d="M131.8,314.8 L138.3,311.9 L156.4,313.3 L155.7,315.5 L138.3,319.9 L131.8,317 Z"/>
<path class="o" d="M136.2,293.8 L152.8,296 L155,298.1 L152.8,310.4 L139.8,313.3 L134,309 L135.4,296 Z"/>
<path class="i" d="M139.5,296.5 L138.5,311 M149,297.5 L148,311.5 M152.8,296 L151.5,310.5"/>
<path class="o" d="M141.2,294.5 L141.7,290 C142.5,287.5 148,287.5 149.2,290 L149.2,295 C147,296.5 143,296.5 141.2,294.5 Z"/>
<ellipse class="i" cx="145.3" cy="289.8" rx="3.9" ry="2"/>
</g>
<g id="probe7">
<path class="o" d="M152.8,330.4 L135.4,334.3 L123.8,338 C121,339.3 119.5,340 118.8,341.6 C117.8,343 117.7,344.5 118,346 C118.5,348 119.5,349.5 120.9,351 L130.4,358.3 L133.3,356 L125.3,349.6 C124,348.5 123.2,347.6 123.1,346.7 L123.1,343.8 C124.3,342.5 125.5,341.5 126.7,340.9 L138.3,337.2 L153.6,332.9 L156.5,330.5 Z"/>
<path class="i" d="M146,331.5 L147.5,334.5"/>
<path class="o" d="M146.2,372.9 L158.3,382.6 C159.5,382.8 160.5,381.5 160.3,380.2 L148.2,370.4 Z"/>
<path class="o" d="M135.9,366.3 L145.3,373.9 C147,374.5 149,372 149.1,369.3 L139.7,361.7 Z"/>
<path class="i" d="M143,365.5 L140.5,370"/>
<ellipse class="o" cx="134.7" cy="361.5" rx="3.2" ry="7" transform="rotate(39 134.7 361.5)"/>
<ellipse class="i" cx="135.5" cy="362" rx="1.6" ry="5" transform="rotate(39 135.5 362)"/>
</g>
<g class="t">
<path d="M117,272.3 L143.5,262"/>
<path d="M199,240.5 L226,229.8"/>
<path d="M289.7,200.7 L386.3,272.7 L376.4,277.3 L408.5,301.5"/>
<path d="M232,118 L229.7,131"/>
<path d="M268,143 L262,157 L258,180"/>
<path d="M152.6,417 L226.7,389.3"/>
<path d="M141.8,477.2 L240.2,435.2 L240.3,408.5 L270.3,395.8"/>
<path d="M183.5,423.2 L242,400"/>
<path d="M300,383 L500,306"/>
<path d="M418,373.5 L422.5,377 M431,387.5 L436,391.5"/>
<path d="M516,325 L448,355"/>
<path d="M426.4,226 L405.7,318.5"/>
<path d="M437.2,261 L427,311"/>
<path d="M438.3,592.8 L438.3,600.2 L418,590 L418,605.7"/>
<path d="M160,384 L205,367"/>
<path d="M270.2,424 L270.2,434.5 M270.2,441 L270.2,448"/>
</g>

<text transform="translate(53.0 156.6) scale(0.96 1.1)">12</text>
<text transform="translate(53.0 195.2) scale(0.96 1.1)">11</text>
<text transform="translate(53.0 234.6) scale(0.96 1.1)">10</text>
<text transform="translate(54.2 274.2) scale(0.96 1.1)">9</text>
<text transform="translate(54.2 313.6) scale(0.96 1.1)">8</text>
<text transform="translate(54.4 352.6) scale(0.96 1.1)">7</text>
<text transform="translate(54.4 391.6) scale(0.96 1.1)">6</text>
<text transform="translate(54.4 432.3) scale(0.96 1.1)">5</text>
<text transform="translate(55.9 506.6) scale(0.96 1.1)">4</text>
<text transform="translate(160.6 523.7) scale(0.96 1.1)">3</text>
<text transform="translate(201.3 567.4) scale(0.96 1.1)">2</text>
<text transform="translate(244.2 619.2) scale(0.96 1.1)">1</text>
<text transform="translate(186.2 68.1) scale(0.96 1.1)">13</text>
<text transform="translate(230.4 68.1) scale(0.96 1.1)">14</text>
<text transform="translate(263.2 68.1) scale(0.96 1.1)">15</text>
<text transform="translate(300.3 134.0) scale(0.96 1.1)">16</text>
<text transform="translate(320.1 184.4) scale(0.96 1.1)">17</text>
<text transform="translate(361.1 123.6) scale(0.96 1.1)">18</text>
<text transform="translate(374.0 189.6) scale(0.96 1.1)">19</text>
<text transform="translate(415.4 184.8) scale(0.96 1.1)">20</text>
<text transform="translate(577.8 297.6) scale(0.96 1.1)">21</text>
<text transform="translate(577.8 329.0) scale(0.96 1.1)">22</text>
<text transform="translate(577.8 376.6) scale(0.96 1.1)">23</text>
<text transform="translate(466.6 383.0) scale(0.96 1.1)">24</text>
<text transform="translate(475.0 429.0) scale(0.96 1.1)">25</text>
<text transform="translate(381.1 412.9) scale(0.96 1.1)">26</text>
<text transform="translate(337.4 442.1) scale(0.96 1.1)">27</text>
<text transform="translate(310.4 485.2) scale(0.96 1.1)">28</text>
<text transform="translate(474.2 609.6) scale(0.96 1.1)">29</text>
</svg>
</body></html>
